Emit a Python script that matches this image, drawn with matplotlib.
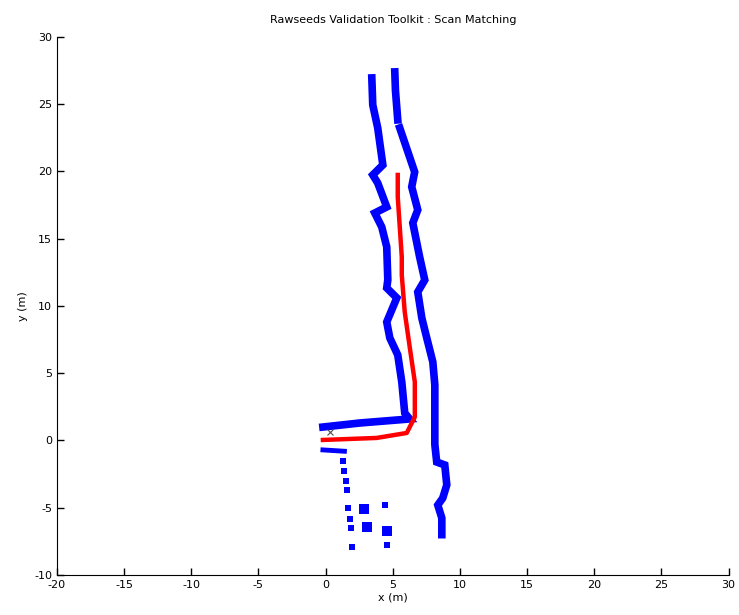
import matplotlib.pyplot as plt

plt.rcParams['axes.unicode_minus'] = False

# scan-matched wall points (m)
left_wall_x = [3.44, 3.51, 3.88, 4.26, 3.51, 3.88, 4.55, 3.66, 4.18, 4.55, 4.63, 4.55, 5.30, 4.55,
               4.78, 5.37, 5.67, 5.89, 6.26, 2.54, -0.20]
left_wall_y = [26.95, 24.94, 23.23, 20.48, 19.74, 19.14, 17.36, 16.91, 15.87, 14.39, 11.93, 11.34,
               10.60, 8.81, 7.62, 6.36, 4.35, 2.04, 1.60, 1.30, 1.00]

right_top_x = [5.15, 5.20, 5.37]
right_top_y = [27.40, 26.00, 23.83]
right_wall_x = [5.52, 6.63, 6.41, 6.86, 6.49, 7.00, 7.38, 6.86, 7.16, 7.53, 7.98, 8.13, 8.13,
                8.27, 8.87, 9.02, 8.72, 8.35, 8.65, 8.65]
right_wall_y = [23.23, 19.96, 18.85, 17.14, 16.17, 13.64, 11.93, 11.04, 9.11, 7.62, 5.84, 4.13,
                -0.30, -1.60, -1.82, -3.30, -4.28, -4.80, -5.76, -7.00]

low_line_x = [-0.20, 1.40]
low_line_y = [-0.70, -0.80]

dots_x = [1.30, 1.40, 1.50, 1.60, 1.65, 1.80, 1.90, 1.95, 4.40, 4.60]
dots_y = [-1.50, -2.30, -3.00, -3.70, -5.00, -5.80, -6.50, -7.90, -4.80, -7.80]
blobs_x = [2.85, 3.05, 4.60]
blobs_y = [-5.10, -6.40, -6.70]

# robot trajectory
traj_x = [-0.20, 3.80, 6.04, 6.64, 6.64, 6.27, 5.89, 5.67, 5.67, 5.37, 5.37]
traj_y = [0.04, 0.19, 0.56, 1.75, 4.35, 6.88, 9.55, 12.30, 13.64, 18.10, 19.74]

fig = plt.figure(figsize=(7.39, 6.15), dpi=100)
ax = fig.add_axes([0.077, 0.065, 0.909, 0.875])

blue = '#0000ff'
ax.plot(left_wall_x, left_wall_y, color=blue, lw=5.5, solid_joinstyle='miter')
ax.plot(right_top_x, right_top_y, color=blue, lw=5.5)
ax.plot(right_wall_x, right_wall_y, color=blue, lw=5.5, solid_joinstyle='miter')
ax.plot(low_line_x, low_line_y, color=blue, lw=3.5)
ax.scatter(dots_x, dots_y, marker='s', s=14, color=blue, linewidths=0)
ax.scatter(blobs_x, blobs_y, marker='s', s=60, color=blue, linewidths=0)

ax.plot(traj_x, traj_y, color='#ff0000', lw=3.2)
ax.plot([0.3], [0.6], marker='x', color='0.3', ms=4, mew=0.8)

ax.set_xlim(-20, 30)
ax.set_ylim(-10, 30)
ax.set_xticks(range(-20, 31, 5))
ax.set_yticks(range(-10, 31, 5))
ax.spines['top'].set_visible(False)
ax.spines['right'].set_visible(False)
ax.tick_params(direction='in', length=5, width=1, labelsize=8)
ax.set_xlabel('x (m)', fontsize=8, labelpad=2)
ax.set_ylabel('y (m)', fontsize=8, labelpad=4)
ax.set_title('Rawseeds Validation Toolkit : Scan Matching', fontsize=8, pad=10)

fig.savefig('out.png', dpi=100)
